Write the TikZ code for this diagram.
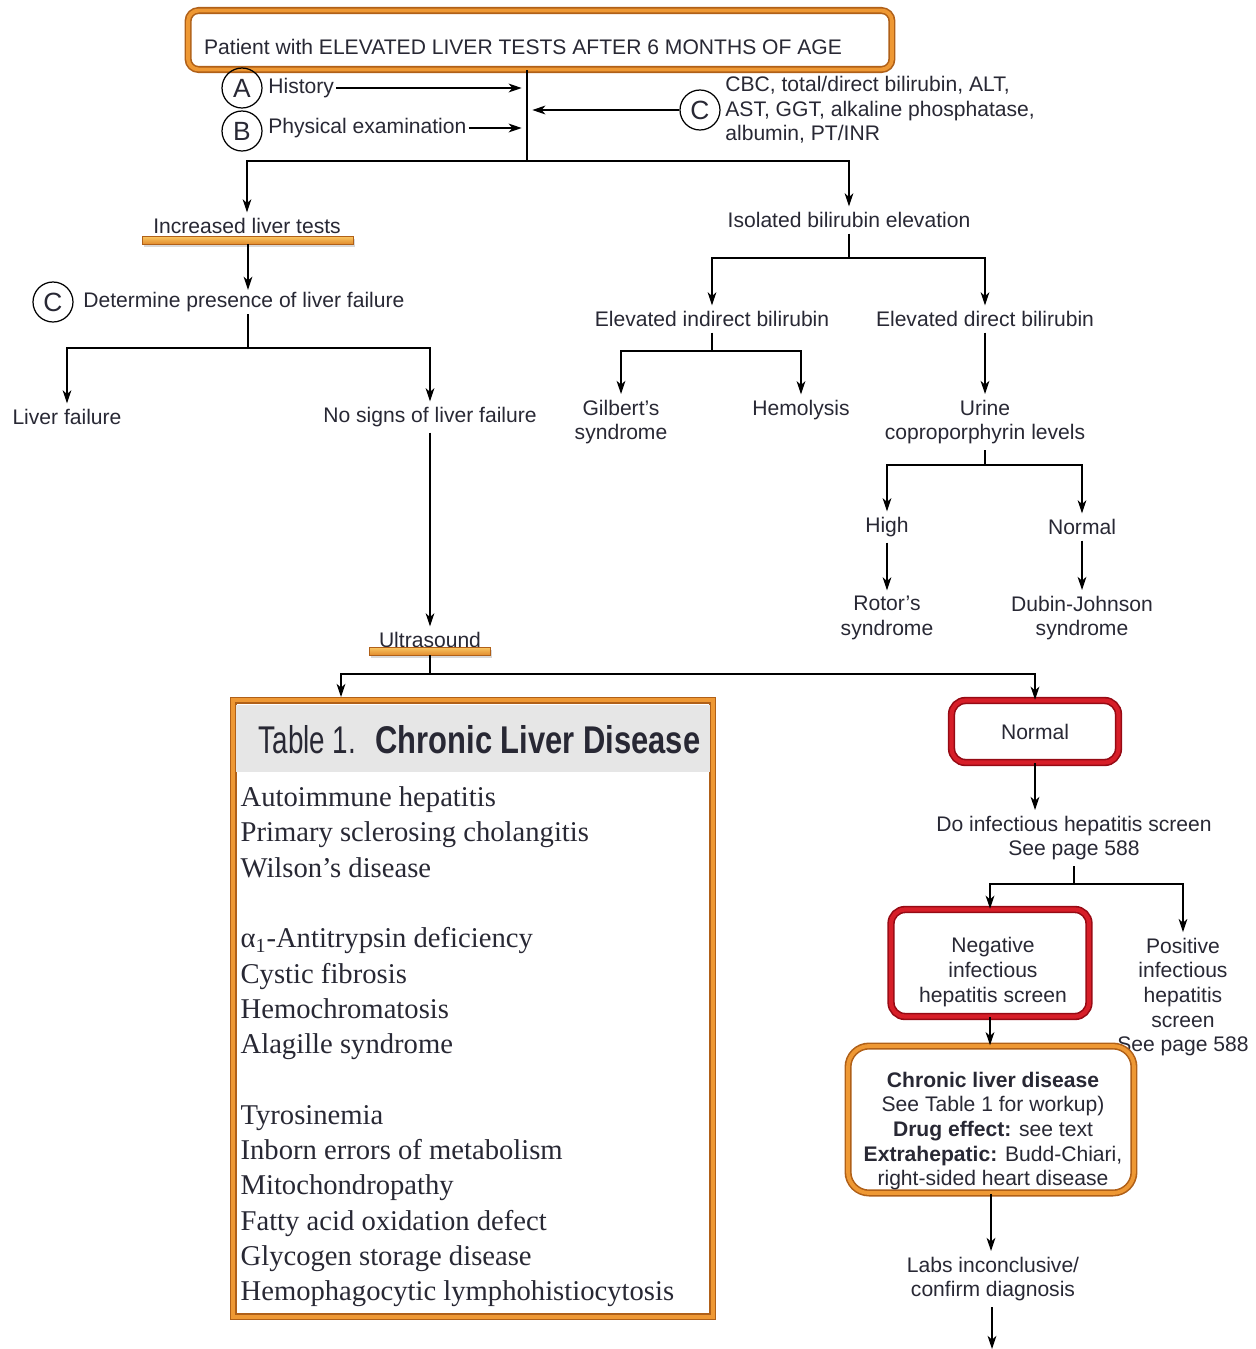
\documentclass[tikz,border=0pt]{standalone}
\usepackage{fontspec}
\setmainfont{Liberation Serif}
\setsansfont{Liberation Sans}
\newfontfamily\headlight[FakeStretch=0.72]{Liberation Sans}
\newfontfamily\headbold[FakeStretch=0.80]{Liberation Sans}
\usetikzlibrary{arrows.meta}
\usetikzlibrary{shadows}
\usetikzlibrary{calc}
\definecolor{inkC}{RGB}{40,40,52}
\definecolor{orangeD}{RGB}{176,96,24}
\definecolor{orangeL}{RGB}{238,152,52}
\definecolor{orangeY}{RGB}{250,200,100}
\definecolor{redD}{RGB}{150,10,20}
\definecolor{redL}{RGB}{215,30,40}
\definecolor{headgray}{RGB}{230,230,230}
\begin{document}
\begin{tikzpicture}[x=0.02cm, y=-0.02cm, line width=0.7pt,
    >={Stealth[length=7.5pt, width=5pt, inset=2.2pt]},
    txt/.style={font=\sffamily\fontsize{12}{14}\selectfont, text=inkC, align=center, inner sep=3pt},
    letter/.style={circle, draw, minimum size=0.8cm, inner sep=0pt, font=\sffamily\fontsize{15}{15}\selectfont, text=inkC},
    orangebox/.style={draw=orangeD, line width=0.9pt, double=orangeL, double distance=2.2pt, fill=white,
        drop shadow={opacity=0.3, shadow xshift=1.5pt, shadow yshift=-1.5pt}},
    redbox/.style={draw=redD, line width=0.9pt, double=redL, double distance=2.4pt, fill=white, rounded corners=8pt,
        drop shadow={opacity=0.3, shadow xshift=1.5pt, shadow yshift=-1.5pt}},
    bar/.style={rectangle, draw=orangeD, line width=0.4pt, top color=orangeY, bottom color=orangeL!80!orangeD,
        inner sep=0pt, minimum height=0.16cm, drop shadow={opacity=0.3, shadow xshift=1pt, shadow yshift=-1.5pt}}]
    \useasboundingbox (0, 0) rectangle (1255, 1349);

    \draw (540, 40) node[orangebox, rounded corners=6pt, minimum width=14.08cm, minimum height=1.18cm] (title) {};
    \draw (523, 47) node[txt] (titletxt) {Patient with ELEVATED LIVER TESTS AFTER 6 MONTHS OF AGE};
    \coordinate (topsplit) at (527, 161);
    \draw (title.south -| topsplit) -- (topsplit);

    \draw (242, 88) node[letter] (circA) {A};
    \draw (266, 88) node[txt, anchor=west, inner sep=1pt] (hist) {History};
    \draw[->, shorten >=3pt] (hist) -- (hist -| topsplit);
    \draw (242, 131) node[letter] (circB) {B};
    \draw (266, 128) node[txt, anchor=west, inner sep=1pt] (phys) {Physical examination};
    \draw[->, shorten >=3pt] (phys) -- (phys -| topsplit);
    \draw (700, 110) node[letter] (circC) {C};
    \draw (723, 110) node[txt, anchor=west, align=left, inner sep=1pt] (labtests) {CBC, total/direct bilirubin, ALT,\\AST, GGT, alkaline phosphatase,\\albumin, PT/INR};
    \draw[->, shorten >=3pt] (circC) -- (circC -| topsplit);

    \draw (247, 226) node[txt] (inc) {Increased liver tests};
    \draw[->] (topsplit) -| (inc);
    \draw (248, 240) node[bar, minimum width=4.22cm] (incbar) {};
    \draw (53, 302) node[letter] (circD) {C};
    \draw (81, 302) node[txt, anchor=west, inner sep=1pt] (determ) {Determine presence of liver failure};
    \draw[->] (incbar) -- (incbar |- determ.north);
    \coordinate (detsplit) at (248, 348);
    \draw (detsplit |- determ.south) -- (detsplit);
    \draw (67, 417) node[txt] (lfail) {Liver failure};
    \draw (430, 417) node[txt] (nosign) {No signs of liver failure};
    \draw[->] (detsplit) -| (lfail);
    \draw[->] (detsplit) -| (nosign);
    \draw (430, 640) node[txt] (ultra) {Ultrasound};
    \draw[->] (nosign) -- (ultra);
    \draw (430, 651) node[bar, minimum width=2.42cm] (ultrabar) {};
    \coordinate (ussplit) at (430, 674);
    \draw (ultrabar) -- (ussplit);

    \draw (849, 220) node[txt] (iso) {Isolated bilirubin elevation};
    \draw[->] (topsplit) -| (iso);
    \coordinate (isosplit) at (849, 258);
    \draw (iso) -- (isosplit);
    \draw (712, 319) node[txt] (indir) {Elevated indirect bilirubin};
    \draw (985, 319) node[txt] (direct) {Elevated direct bilirubin};
    \draw[->] (isosplit) -| (indir);
    \draw[->] (isosplit) -| (direct);
    \coordinate (indsplit) at (712, 351);
    \draw (indir) -- (indsplit);
    \draw (621, 422) node[txt] (gilbert) {Gilbert’s\\syndrome};
    \draw (801, 410) node[txt] (hemol) {Hemolysis};
    \draw[->] (indsplit) -| (gilbert);
    \draw[->] (indsplit) -| (hemol);
    \draw (985, 422) node[txt] (urine) {Urine\\coproporphyrin levels};
    \draw[->] (direct) -- (urine);
    \coordinate (urinesplit) at (985, 465);
    \draw (urine) -- (urinesplit);
    \draw (887, 527) node[txt] (high) {High};
    \draw (1082, 527) node[txt] (normlvl) {Normal};
    \draw[->] (urinesplit) -| (high);
    \draw[->] (urinesplit) -| (normlvl);
    \draw (887, 618) node[txt] (rotor) {Rotor’s\\syndrome};
    \draw (1082, 618) node[txt] (dubin) {Dubin-Johnson\\syndrome};
    \draw[->] (high) -- (rotor);
    \draw[->] (normlvl) -- (dubin);

    \coordinate (tblin) at (341, 697);
    \draw[->] (ussplit) -| (tblin);
    \draw (473, 1008.5) node[orangebox, minimum width=9.6cm, minimum height=12.34cm] (table) {};
    \fill[headgray] (236, 705) rectangle (710, 772);
    \draw (258, 753) node[anchor=base west, inner sep=0pt, text=inkC] (tbltitle)
        {{\headlight\fontsize{22}{22}\selectfont Table 1.}\hspace{11pt}{\headbold\bfseries\fontsize{22}{22}\selectfont Chronic Liver Disease}};
    \draw (240, 786) node[anchor=north west, inner sep=0pt, align=left, text=inkC,
        font=\rmfamily\fontsize{16.3}{20.1}\selectfont] (items)
        {Autoimmune hepatitis\\Primary sclerosing cholangitis\\Wilson’s disease\\[20.1pt]
         α\textsubscript{1}-Antitrypsin deficiency\\Cystic fibrosis\\Hemochromatosis\\Alagille syndrome\\[20.1pt]
         Tyrosinemia\\Inborn errors of metabolism\\Mitochondropathy\\Fatty acid oxidation defect\\Glycogen storage disease\\Hemophagocytic lymphohistiocytosis};

    \draw (1035, 731.5) node[txt, redbox, minimum width=3.34cm, minimum height=1.24cm] (normal) {Normal};
    \draw[->] (ussplit) -| (normal);
    \draw (1074, 838) node[txt] (infect) {Do infectious hepatitis screen\\See page 588};
    \draw[->] (normal.south) -- (normal.south |- infect.north);
    \coordinate (infsplit) at (1074, 884);
    \draw (infect) -- (infsplit);
    \draw (990, 963) node[redbox, minimum width=3.96cm, minimum height=2.14cm] (negbox) {};
    \draw (993, 972) node[txt] (negtxt) {Negative\\infectious\\hepatitis screen};
    \draw (1183, 997) node[txt] (pos) {Positive\\infectious\\hepatitis\\screen\\See page 588};
    \draw[->] (infsplit) -| (negbox);
    \draw[->] (infsplit) -| (pos);

    \draw (991, 1119.5) node[orangebox, rounded corners=12pt, minimum width=5.72cm, minimum height=2.94cm] (chronic) {};
    \draw (993, 1131) node[txt] (chrtxt) {\textbf{Chronic liver disease}\\See Table 1 for workup)\\\textbf{Drug effect:} see text\\\textbf{Extrahepatic:} Budd-Chiari,\\right-sided heart disease};
    \draw[->] (negbox.south) -- (negbox.south |- chronic.north);
    \draw (993, 1279) node[txt] (labsinc) {Labs inconclusive/\\confirm diagnosis};
    \draw[->] (chronic.south) -- (chronic.south |- labsinc.north);
    \coordinate (exit) at (992, 1349);
    \draw[->] (labsinc.south -| exit) -- (exit);
\end{tikzpicture}
\end{document}
